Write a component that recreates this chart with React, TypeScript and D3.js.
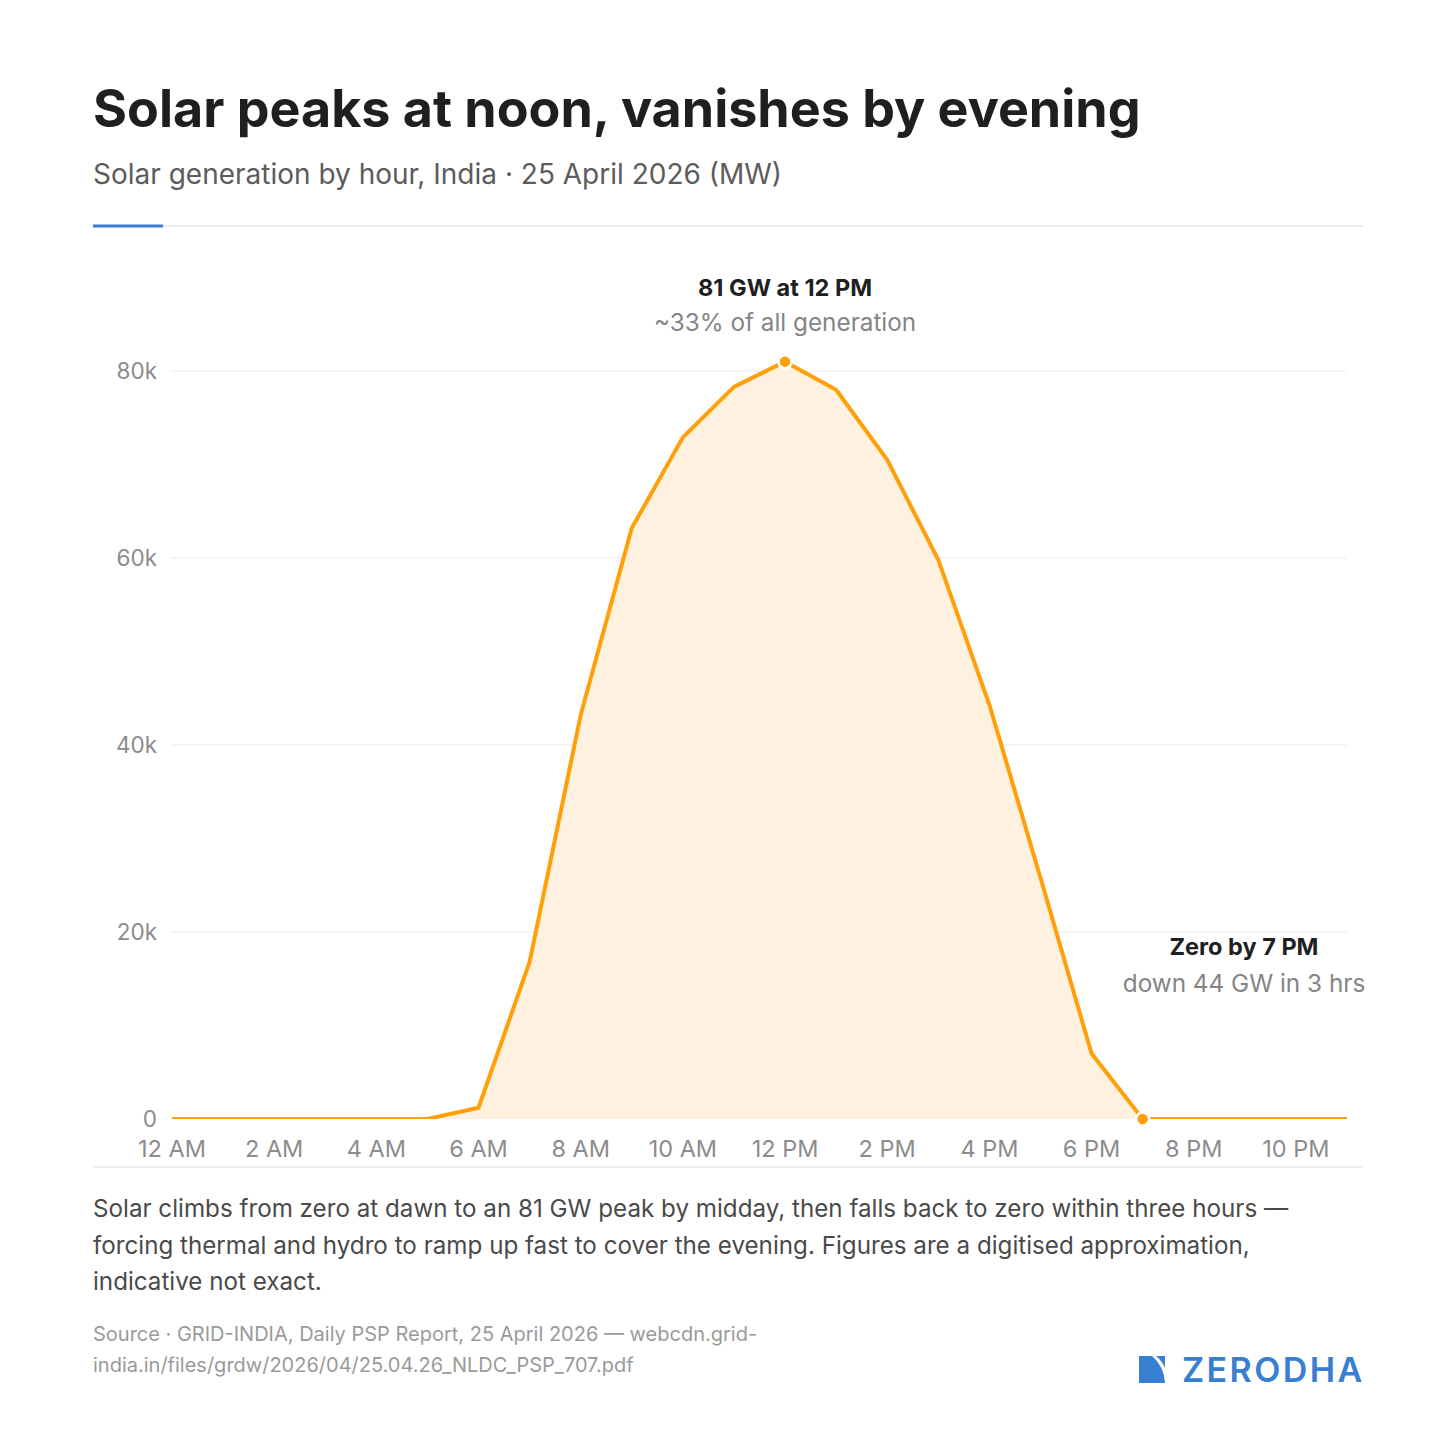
import React from "react";
import * as d3 from "d3";

// hourly solar generation, MW
const hours = [0, 1, 2, 3, 4, 5, 6, 7, 8, 9, 10, 11, 12, 13, 14, 15, 16, 17, 18, 19, 20, 21, 22, 23];
const solarMW = [
  0, 0, 0, 0, 0, 0, 1200, 16800, 43200, 63200, 72900, 78300, 81000, 78000,
  70500, 59800, 44300, 25800, 7000, 0, 0, 0, 0, 0,
];
const xTickHours = [0, 2, 4, 6, 8, 10, 12, 14, 16, 18, 20, 22];
const xTickLabels = ["12 AM", "2 AM", "4 AM", "6 AM", "8 AM", "10 AM", "12 PM", "2 PM", "4 PM", "6 PM", "8 PM", "10 PM"];
const yTicks = [0, 20000, 40000, 60000, 80000];
const markedHours = [12, 19];

const FONT = "Inter, 'Noto Sans', sans-serif";
const ORANGE = "#ffa00a";

export default function App() {
  const width = 1456;
  const height = 1456;
  const x = d3.scaleLinear().domain([0, 23]).range([172, 1347]);
  const y = d3.scaleLinear().domain([0, 80000]).range([1119, 371]);

  const pts = hours.map((h, i) => ({ h, v: solarMW[i] }));
  const line = d3
    .line<{ h: number; v: number }>()
    .x((d) => x(d.h))
    .y((d) => y(d.v));
  const area = d3
    .area<{ h: number; v: number }>()
    .x((d) => x(d.h))
    .y0(y(0))
    .y1((d) => y(d.v));

  return (
    <svg
      width={width}
      height={height}
      viewBox={`0 0 ${width} ${height}`}
      style={{ position: "absolute", left: 0, top: 0, background: "#fff", fontFamily: FONT }}
    >
      <rect width={width} height={height} fill="#fff" />
      <defs>
        <clipPath id="plot-clip">
          <rect x={160} y={250} width={1200} height={y(0) - 250} />
        </clipPath>
      </defs>

      {/* header */}
      <text x={93} y={127} fontSize={52} fontWeight={700} fill="#1f1f1f">
        Solar peaks at noon, vanishes by evening
      </text>
      <text x={93} y={184} fontSize={28} fill="#5c5c5c">
        Solar generation by hour, India · 25 April 2026 (MW)
      </text>
      <line x1={93} x2={1363} y1={226} y2={226} stroke="#e6e6e6" strokeWidth={1.5} />
      <line x1={93} x2={163} y1={226} y2={226} stroke="#3a7bd5" strokeWidth={3} />

      {/* grid + y labels */}
      {yTicks.map((t) => (
        <g key={t}>
          {t > 0 && (
            <line x1={171} x2={1347} y1={y(t)} y2={y(t)} stroke="#ebebeb" strokeWidth={1.2} />
          )}
          <text x={157} y={y(t)} dy="0.35em" textAnchor="end" fontSize={22.5} fill="#8c8c8c">
            {t === 0 ? "0" : `${t / 1000}k`}
          </text>
        </g>
      ))}

      {/* series */}
      <path d={area(pts) ?? ""} fill="#fef1df" />
      <path
        d={line(pts) ?? ""}
        fill="none"
        stroke={ORANGE}
        strokeWidth={4}
        strokeLinejoin="round"
        clipPath="url(#plot-clip)"
      />
      {markedHours.map((h) => (
        <circle
          key={h}
          cx={x(h)}
          cy={y(solarMW[hours.indexOf(h)])}
          r={6.5}
          fill={ORANGE}
          stroke="#fff"
          strokeWidth={2.5}
        />
      ))}

      {/* x labels */}
      {xTickHours.map((h, i) => (
        <text key={h} x={x(h)} y={1157} textAnchor="middle" fontSize={23.5} fill="#8c8c8c">
          {xTickLabels[i]}
        </text>
      ))}
      <line x1={93} x2={1363} y1={1167} y2={1167} stroke="#e6e6e6" strokeWidth={1.5} />

      {/* annotations */}
      <text x={x(12)} y={296} textAnchor="middle" fontSize={23.5} fontWeight={700} fill="#1f1f1f">
        81 GW at 12 PM
      </text>
      <text x={x(12)} y={331} textAnchor="middle" fontSize={24.3} fill="#858585">
        ~33% of all generation
      </text>
      <text x={1244} y={955} textAnchor="middle" fontSize={23.5} fontWeight={700} fill="#1f1f1f">
        Zero by 7 PM
      </text>
      <text x={1244} y={992} textAnchor="middle" fontSize={24.3} fill="#858585">
        down 44 GW in 3 hrs
      </text>

      {/* footer */}
      <g fontSize={24.2} fill="#4a4a4a">
        <text x={93} y={1217}>
          Solar climbs from zero at dawn to an 81 GW peak by midday, then falls back to zero within three hours —
        </text>
        <text x={93} y={1254}>
          forcing thermal and hydro to ramp up fast to cover the evening. Figures are a digitised approximation,
        </text>
        <text x={93} y={1290}>indicative not exact.</text>
      </g>
      <g fontSize={20} fill="#9a9a9a">
        <text x={93} y={1341}>Source · GRID-INDIA, Daily PSP Report, 25 April 2026 — webcdn.grid-</text>
        <text x={93} y={1372}>india.in/files/grdw/2026/04/25.04.26_NLDC_PSP_707.pdf</text>
      </g>

      {/* logo */}
      <g fill="#387ed1">
        <path d="M1139,1356 L1152,1356 Q1164,1366 1165,1383 L1139,1383 Z" />
        <path d="M1156,1356 L1165,1356 L1165,1368 Q1162,1361 1156,1356 Z" />
        <text x={1182} y={1382} fontSize={34} fontWeight={600} letterSpacing={2.4}>
          ZERODHA
        </text>
      </g>
    </svg>
  );
}
